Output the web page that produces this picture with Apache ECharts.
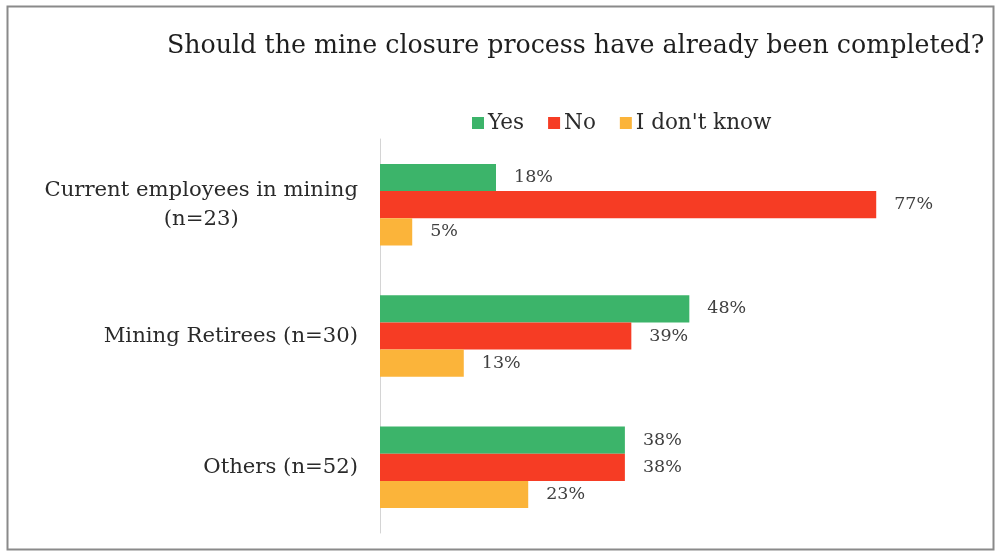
<!DOCTYPE html>
<html>
<head>
<meta charset="utf-8">
<script src="https://cdn.jsdelivr.net/npm/echarts@6/dist/echarts.min.js"></script>
<style>
html,body{margin:0;padding:0;background:#fff;}
#chart{width:998px;height:552px;}
</style>
</head>
<body>
<div id="chart"></div>
<script>
const categories = ['Current employees in mining\n(n=23)', 'Mining Retirees (n=30)', 'Others (n=52)'];
const seriesNames = ['Yes', 'No', "I don't know"];
const yesValues = [18, 48, 38];
const noValues = [77, 39, 38];
const dontKnowValues = [5, 13, 23];
const colors = ['#3cb46a', '#f63c24', '#fbb43a'];

const FONT = 'DejaVu Serif';
const chart = echarts.init(document.getElementById('chart'));

function makeSeries(name, data, color) {
  return {
    name: name,
    type: 'bar',
    data: data,
    barGap: '0%',
    barCategoryGap: '38%',
    itemStyle: { color: color },
    label: {
      show: true,
      position: 'right',
      distance: 18,
      formatter: '{c}%',
      color: '#404040',
      fontFamily: FONT,
      fontSize: 17.5
    }
  };
}

chart.setOption({
  animation: false,
  backgroundColor: '#fff',
  title: {
    text: 'Should the mine closure process have already been completed?',
    left: 162,
    top: 29,
    textStyle: { fontFamily: FONT, fontSize: 25.3, fontWeight: 'normal', color: '#1e1e1e' }
  },
  legend: {
    data: seriesNames,
    left: 467,
    top: 107,
    itemWidth: 12,
    itemHeight: 12,
    itemGap: 24,
    icon: 'rect',
    textStyle: { fontFamily: FONT, fontSize: 21.5, color: '#2a2a2a', padding: [0, 0, 0, -1] }
  },
  grid: { left: 380, top: 139, width: 580, height: 394, containLabel: false },
  xAxis: {
    type: 'value', min: 0, max: 90,
    show: false
  },
  yAxis: {
    type: 'category',
    inverse: true,
    data: categories,
    axisLine: { show: true, lineStyle: { color: '#d4d4d4', width: 1 } },
    axisTick: { show: false },
    axisLabel: {
      margin: 22,
      formatter: function (v) {
        return v.split('\n').map(function (s) { return '{a|' + s + '}'; }).join('\n');
      },
      rich: {
        a: { fontFamily: FONT, fontSize: 21.2, color: '#2a2a2a', align: 'center', lineHeight: 29 }
      }
    }
  },
  graphic: [{
    type: 'rect',
    shape: { x: 7.5, y: 6.5, width: 986, height: 543 },
    style: { fill: 'none', stroke: '#8a8a8a', lineWidth: 2 },
    silent: true
  }],
  series: [
    makeSeries(seriesNames[0], yesValues, colors[0]),
    makeSeries(seriesNames[1], noValues, colors[1]),
    makeSeries(seriesNames[2], dontKnowValues, colors[2])
  ]
});
</script>
</body>
</html>
